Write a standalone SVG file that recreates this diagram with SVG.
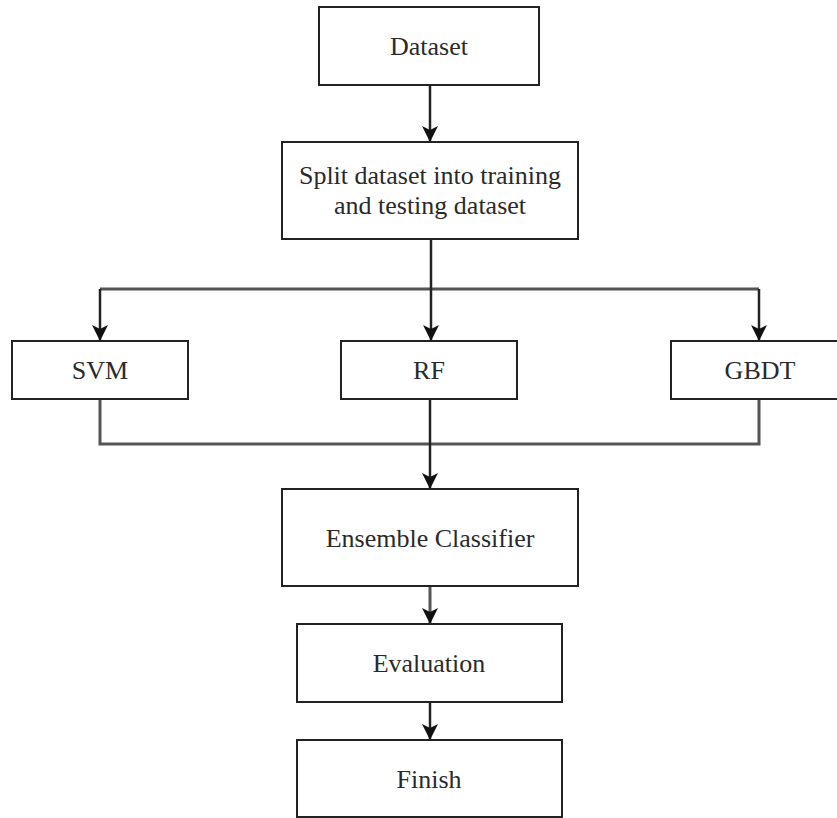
<svg xmlns="http://www.w3.org/2000/svg" width="837" height="818" viewBox="0 0 837 818">
<style>
.box{fill:#fff;stroke:#222;stroke-width:2}
.lbl{font-family:"Liberation Serif","Times New Roman",serif;font-size:26px;fill:#2a2a2a;text-anchor:middle}
.c{fill:none;stroke:#222;stroke-width:2.5}
.g{fill:none;stroke:#555;stroke-width:3}
</style>
<defs>
<marker id="ah" viewBox="0 0 16 16" refX="16" refY="8" markerWidth="16" markerHeight="16" markerUnits="userSpaceOnUse" orient="auto">
<path d="M0,0 L16,8 L0,16 L4,8 z" fill="#111"/>
</marker>
</defs>
<rect width="837" height="818" fill="#fff"/>
<g id="connectors">
<line class="c" x1="430" y1="85" x2="430" y2="142" marker-end="url(#ah)"/>
<line class="g" x1="100" y1="289" x2="759" y2="289"/>
<line class="c" x1="431" y1="239" x2="431" y2="341" stroke-width="3.5" marker-end="url(#ah)"/>
<polyline class="c" points="100,289 100,341" marker-end="url(#ah)"/>
<polyline class="c" points="759,289 759,341" marker-end="url(#ah)"/>
<polyline class="g" points="100,399 100,444 759,444 759,399"/>
<line class="c" x1="430" y1="399" x2="430" y2="489" stroke-width="3" marker-end="url(#ah)"/>
<line class="g" x1="430" y1="586" x2="430" y2="624" marker-end="url(#ah)"/>
<line class="c" x1="430" y1="702" x2="430" y2="740" marker-end="url(#ah)"/>
</g>
<g id="dataset"><rect class="box" x="319" y="7" width="220" height="78"/><text class="lbl" x="429" y="55">Dataset</text></g>
<g id="split"><rect class="box" x="282" y="142" width="296" height="97"/><text class="lbl" x="430" y="184">Split dataset into training</text><text class="lbl" x="430" y="214">and testing dataset</text></g>
<g id="svm"><rect class="box" x="12" y="341" width="176" height="58"/><text class="lbl" x="100" y="379">SVM</text></g>
<g id="rf"><rect class="box" x="341" y="341" width="176" height="58"/><text class="lbl" x="429" y="379">RF</text></g>
<g id="gbdt"><rect class="box" x="671" y="341" width="175" height="58"/><text class="lbl" x="760" y="379">GBDT</text></g>
<g id="ensemble"><rect class="box" x="282" y="489" width="296" height="97"/><text class="lbl" x="430" y="547">Ensemble Classifier</text></g>
<g id="evaluation"><rect class="box" x="297" y="624" width="265" height="78"/><text class="lbl" x="429" y="672">Evaluation</text></g>
<g id="finish"><rect class="box" x="297" y="740" width="265" height="77"/><text class="lbl" x="429" y="788">Finish</text></g>
</svg>
